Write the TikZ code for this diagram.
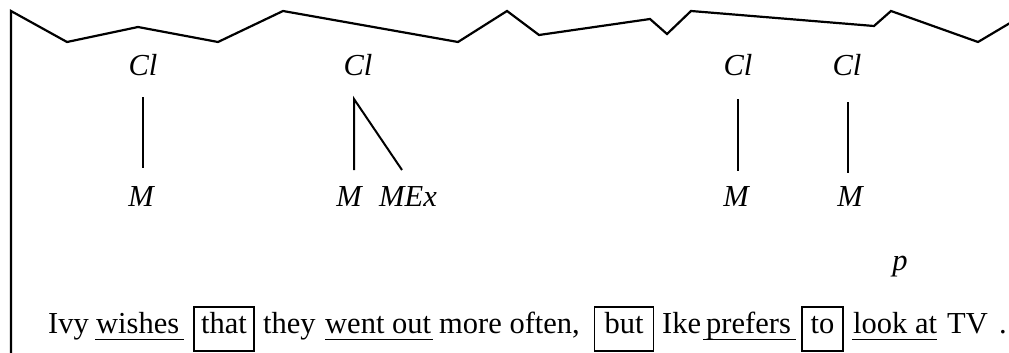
\documentclass[tikz,border=0pt]{standalone}
\usepackage{fontspec}
\setmainfont{Liberation Serif}
\begin{document}
\begin{tikzpicture}[x=1pt,y=-1pt,
  lbl/.style={font=\fontsize{30.5}{36}\selectfont\itshape, inner sep=0pt, anchor=base},
  word/.style={font=\fontsize{30.5}{36}\selectfont, inner sep=0pt, anchor=base west},
  boxed/.style={font=\fontsize{30.5}{36}\selectfont, inner sep=0pt, anchor=base, draw, line width=1.8pt,
    text height=26pt, text depth=18pt, minimum width=#1, align=center},
  ul/.style={line width=1.4pt},
  tl/.style={line width=2pt},
  frame/.style={line width=2.2pt, line join=miter}]
\useasboundingbox (0,0) rectangle (1009,353);
% frame
\draw[frame] (11,353) -- (11,11) -- (67,42) -- (138,27) -- (218,42) -- (283,11) -- (458,42)
  -- (507,11) -- (539,35) -- (650,19) -- (667,34) -- (691,11) -- (874,26) -- (891,11)
  -- (978,42) -- (1010,23);
% tree labels
\node[lbl] (Cl1) at (143,75) {Cl};
\node[lbl] (Cl2) at (358,75) {Cl};
\node[lbl] (Cl3) at (738,75) {Cl};
\node[lbl] (Cl4) at (847,75) {Cl};
\node[lbl] (M1) at (141,206) {M};
\node[lbl] (M2) at (349,206) {M};
\node[lbl] (MEx) at (408,206) {MEx};
\node[lbl] (M3) at (736,206) {M};
\node[lbl] (M4) at (850,206) {M};
\node[lbl] (p) at (900,270) {p};
% tree lines
\coordinate (a1) at (143,97);  \coordinate (b1) at (143,168);
\coordinate (a2) at (354,99);  \coordinate (b2) at (354,170); \coordinate (c2) at (402,170);
\coordinate (a3) at (738,99);  \coordinate (b3) at (738,171);
\coordinate (a4) at (848,102); \coordinate (b4) at (848,173);
\draw[tl] (a1) -- (b1);
\draw[tl] (b2) -- (a2) -- (c2);
\draw[tl] (a3) -- (b3);
\draw[tl] (a4) -- (b4);
% sentence
\node[word] (w1) at (48,333) {Ivy};
\node[word] (w2) at (96,333) {wishes};
\node[boxed=60pt] (w3) at (224,333) {that};
\node[word] (w4) at (263,333) {they};
\node[word] (w5) at (325,333) {went out};
\node[word] (w6) at (439,333) {more often,};
\node[boxed=59pt] (w7) at (624,333) {but};
\node[word] (w8) at (662,333) {Ike};
\node[word] (w9) at (706,333) {prefers};
\node[boxed=41pt] (w10) at (822.5,333) {to};
\node[word] (w11) at (853,333) {look at};
\node[word] (w12) at (947,333) {TV};
\node[word] (w13) at (999,333) {.};
% underlines
\draw[ul] ([yshift=-6.5pt,xshift=-1pt]w2.base west) -- ([yshift=-6.5pt,xshift=5pt]w2.base east);
\draw[ul] ([yshift=-6.5pt]w5.base west) -- ([yshift=-6.5pt,xshift=2pt]w5.base east);
\draw[ul] ([yshift=-6.5pt,xshift=-3pt]w9.base west) -- ([yshift=-6.5pt,xshift=5pt]w9.base east);
\draw[ul] ([yshift=-6.5pt,xshift=-1pt]w11.base west) -- ([yshift=-6.5pt]w11.base east);
\end{tikzpicture}
\end{document}
